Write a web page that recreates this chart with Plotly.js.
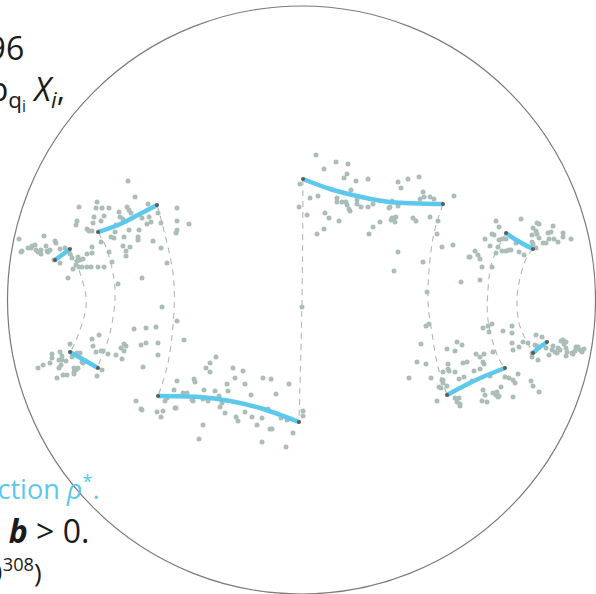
<!DOCTYPE html>
<html>
<head>
<meta charset="utf-8">
<script src="https://cdn.plot.ly/plotly-3.0.1.min.js"></script>
<style>html,body{margin:0;padding:0;background:#fff;}#chart{width:596px;height:594px;}</style>
</head>
<body>
<div id="chart"></div>
<script>
// ---- scatter clusters (pixel-space coordinates) ----
const clusterAx = [128,135,97,79,96,102,109,119,127,129,131,148,177,158,94,104,77,76,101,120,123,142,149,151,147,177,161,189,93,116,129,139,87,89,92,177,176,115,111,114,124,138,138,101,153,161,123,130,126,109,126,92,19,44,55,56,32,31,28,22,21,35,36,38,41,46,47,48,50,41,60,65,87,92,70,72,78,77,80,83,54,60,76,79,82,87,91,98,104,73,112,167,68,142,118];
const clusterAy = [181,197,202,207,208,208,208,212,207,210,213,204,208,213,217,216,221,225,221,217,219,218,217,222,224,221,223,224,223,225,230,230,229,231,231,230,233,232,237,238,237,237,240,242,241,248,246,247,251,252,256,247,239,236,241,243,246,248,248,251,252,245,250,252,250,246,251,252,250,254,249,248,254,253,254,258,257,261,260,259,260,263,265,267,267,267,267,267,267,269,262,263,278,278,284];

const clusterBx = [162,177,184,134,146,156,141,146,158,158,143,99,92,93,70,124,126,121,124,96,101,103,108,116,122,52,52,50,60,62,59,62,66,72,77,80,82,83,43,38,61,59,74,76,74,78,74,63,67,57,102,97];
const clusterBy = [307,321,340,329,328,327,345,343,343,355,367,335,339,346,344,344,346,348,351,352,351,351,354,355,359,354,358,363,352,356,360,360,361,357,353,353,362,363,365,368,365,368,368,370,372,368,374,375,375,378,370,376];

const clusterCx = [177,194,195,174,183,187,192,176,165,167,163,157,161,216,210,206,210,233,243,235,227,245,263,271,289,228,204,215,251,276,219,193,203,208,222,220,175,225,236,238,245,252,262,268,281,287,257,270,272,293,303,303,142,203,199,262,286,136,141];
const clusterCy = [381,379,382,390,393,393,400,408,401,398,411,412,417,357,363,368,372,368,371,378,384,384,378,379,384,391,390,391,395,394,396,401,399,401,403,407,408,413,417,421,412,417,418,409,418,420,425,429,429,433,411,416,410,425,439,442,447,401,409];

const clusterDx = [316,336,348,324,347,344,356,368,300,351,318,310,337,337,342,346,357,357,361,347,349,350,368,373,299,307,325,329,339,398,408,419,401,423,424,420,430,434,392,390,398,389,454,430,438,392,394,396,391,395,413,416,380,373,369,324,317,437,442,453,398,423,394,470,302];
const clusterDy = [155,162,164,169,174,178,181,179,184,190,196,198,198,202,202,202,200,204,207,205,209,211,207,204,207,215,213,218,221,182,179,177,188,192,197,199,197,199,201,207,206,208,196,217,221,218,218,217,220,222,218,221,222,227,234,229,234,234,247,245,252,262,271,257,307];

const clusterEx = [461,427,496,499,521,537,539,533,536,537,553,492,494,485,499,502,506,490,498,502,506,509,511,475,478,469,480,496,519,524,548,551,532,563,563,571,549,554,558,543,546,532,539,536,533,516,482,492,480];
const clusterEy = [282,292,221,227,219,223,224,228,231,234,226,234,235,239,240,239,239,246,247,251,251,250,250,251,255,257,259,253,252,255,233,232,235,233,237,239,239,239,242,243,243,242,238,248,244,243,267,267,280];

const clusterFx = [426,429,421,417,426,409,431,437,447,457,462,455,483,488,492,489,503,512,512,476,480,484,493,483,484,448,448,463,467,443,449,455,474,480,443,443,447,439,459,464,472,490,505,509,518,513,515,501,483,485,493,496,498,499,497,482,487,513,455,459,457,460,460,531,533,539,441,442];
const clusterFy = [326,324,344,362,364,378,378,401,349,342,345,351,328,326,324,332,331,326,333,354,357,354,352,362,364,364,369,363,362,372,371,372,371,369,380,383,386,387,379,377,381,376,377,378,374,380,383,387,390,395,393,395,397,396,392,401,402,397,398,398,402,404,406,381,386,392,388,380];

const clusterGx = [512,513,519,523,528,536,542,535,537,532,532,538,546,549,552,553,555,557,561,563,566,564,558,560,566,567,566,572,575,577,576,578,580,584,573,582];
const clusterGy = [343,350,347,342,343,335,337,345,346,353,357,360,348,355,350,346,352,353,341,340,342,344,348,350,348,352,356,353,351,348,347,347,350,349,354,352];

// ---- blue geodesic segments ----
const seg1x = [98,118,138,157],      seg1y = [232,225,215,205];
const seg2x = [55,70],               seg2y = [260,249];
const seg3x = [70,98],               seg3y = [352,368];
const seg4x = [158,200,230,260,299], seg4y = [396,397,401,408,422];
const seg5x = [303,330,357,390,443], seg5y = [179,189,196,202,204];
const seg6x = [447,476,505],         seg6y = [395,380,368];
const seg7x = [506,518,533],         seg7y = [233,241,249];
const seg8x = [533,540,547],         seg8y = [353,347,342];

// ---- dashed connecting arcs ----
const arcAx = [70,80,86,85,74,70],        arcAy = [250,273,297,313,345,352];
const arcBx = [98,107,115,110,97],        arcBy = [232,250,290,333,368];
const arcCx = [157,162,173,174,168,158],  arcCy = [205,223,273,310,363,396];
const arcDx = [303,302,299],              arcDy = [179,300,422];
const arcEx = [443,433,428,432,438,447],  arcEy = [204,238,300,333,367,395];
const arcFx = [506,492,488,488,498,505],  arcFy = [233,262,290,320,357,368];
const arcGx = [533,527,520,517,519,525,533], arcGy = [249,257,278,300,323,338,353];

// disk
const diskCx = 301.5, diskCy = 300, diskR = 294;

const W = 596, H = 594;
const ptColor = '#abbdb9';
const blue = '#5bc8ec';

const traces = [];
const arcs = [[arcAx,arcAy],[arcBx,arcBy],[arcCx,arcCy],[arcDx,arcDy],[arcEx,arcEy],[arcFx,arcFy],[arcGx,arcGy]];
arcs.forEach(a => traces.push({x:a[0], y:a[1], mode:'lines', type:'scatter',
  line:{color:'#b5b5b5', width:1.1, dash:'6px,5px', shape:'spline'}, hoverinfo:'skip'}));

const clusters = [[clusterAx,clusterAy],[clusterBx,clusterBy],[clusterCx,clusterCy],[clusterDx,clusterDy],[clusterEx,clusterEy],[clusterFx,clusterFy],[clusterGx,clusterGy]];
clusters.forEach(c => traces.push({x:c[0], y:c[1], mode:'markers', type:'scatter',
  marker:{color:ptColor, size:5, line:{width:0}}}));

const segs = [[seg1x,seg1y],[seg2x,seg2y],[seg3x,seg3y],[seg4x,seg4y],[seg5x,seg5y],[seg6x,seg6y],[seg7x,seg7y],[seg8x,seg8y]];
segs.forEach(s => traces.push({x:s[0], y:s[1], mode:'lines', type:'scatter',
  line:{color:blue, width:4.5, shape:'spline'}}));
const endX = [], endY = [];
segs.forEach(s => { endX.push(s[0][0], s[0][s[0].length-1]); endY.push(s[1][0], s[1][s[1].length-1]); });
traces.push({x:endX, y:endY, mode:'markers', type:'scatter', marker:{color:'#5a5a5a', size:4}});

const px = v => v / W, py = v => 1 - v / H;
const font = 'Open Sans, DejaVu Sans, sans-serif';
const annotations = [
  {text:'1996', x:px(26), y:py(47), xanchor:'right', yanchor:'middle', font:{family:font, size:32, color:'#1a1a1a'}},
  {text:'exp<sub>q<sub>i</sub></sub> <i>X<sub>i</sub></i>,', x:px(67), y:py(92), xanchor:'right', yanchor:'middle', font:{family:font, size:32, color:'#1a1a1a'}},
  {text:'direction <i>ρ</i><sup>*</sup>.', x:px(102), y:py(487), xanchor:'right', yanchor:'middle', font:{family:font, size:27, color:blue}},
  {text:'for all <b><i>b</i></b> > 0.', x:px(91), y:py(530), xanchor:'right', yanchor:'middle', font:{family:font, size:32, color:'#1a1a1a'}},
  {text:'10<sup>308</sup>)', x:px(44), y:py(571), xanchor:'right', yanchor:'middle', font:{family:font, size:26, color:'#1a1a1a'}}
].map(a => Object.assign({xref:'paper', yref:'paper', showarrow:false}, a));

const layout = {
  width: W, height: H,
  margin:{l:0, r:0, t:0, b:0},
  paper_bgcolor:'#ffffff', plot_bgcolor:'#ffffff',
  showlegend:false,
  xaxis:{range:[0,W], visible:false, fixedrange:true},
  yaxis:{range:[H,0], visible:false, fixedrange:true},
  shapes:[{type:'circle', xref:'x', yref:'y', x0:diskCx-diskR, x1:diskCx+diskR, y0:diskCy-diskR, y1:diskCy+diskR,
    line:{color:'#7a7a7a', width:1.2}, layer:'above'}],
  annotations: annotations
};

Plotly.newPlot('chart', traces, layout, {staticPlot:true, displayModeBar:false});
</script>
</body>
</html>
